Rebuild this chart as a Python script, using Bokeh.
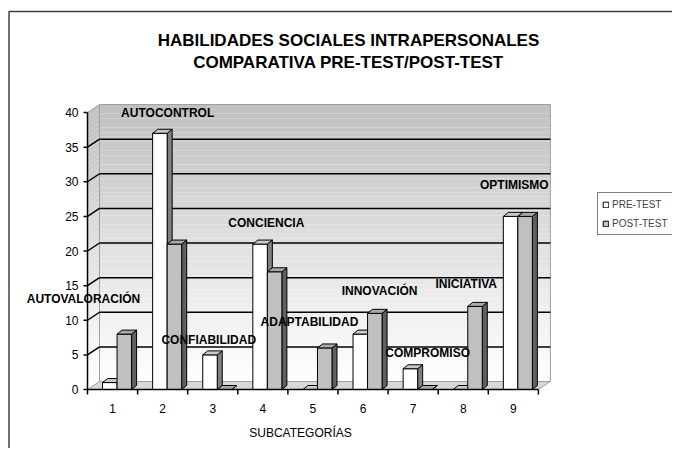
import numpy as np
from bokeh.plotting import figure
from bokeh.models import ColumnDataSource, Legend, LegendItem
from bokeh.core.properties import value
from bokeh.embed import file_html
from bokeh.resources import INLINE

# ---------------- data ----------------
categories = ["1", "2", "3", "4", "5", "6", "7", "8", "9"]
subcategory_names = ["AUTOVALORACIÓN", "AUTOCONTROL", "CONFIABILIDAD", "CONCIENCIA",
                     "ADAPTABILIDAD", "INNOVACIÓN", "COMPROMISO", "INICIATIVA", "OPTIMISMO"]
pre_test = [1, 37, 5, 21, 0, 8, 3, 0, 25]
post_test = [8, 21, 0, 17, 6, 11, 0, 12, 25]
y_ticks = [0, 5, 10, 15, 20, 25, 30, 35, 40]
series_names = ["PRE-TEST", "POST-TEST"]
title_lines = ["HABILIDADES SOCIALES INTRAPERSONALES", "COMPARATIVA PRE-TEST/POST-TEST"]
x_title = "SUBCATEGORÍAS"

# ---------------- layout / style ----------------
FONT = "Liberation Sans"
PX_X = 50.1                   # pixels per category
PX_Y = 6.925                  # pixels per value unit
DX, DY = 12 / PX_X, 8 / PX_Y  # depth of the walls (data units)
BDX, BDY = 5 / PX_X, 4 / PX_Y # depth of the bars
BW = 0.29                     # bar width
PRE_OFF, POST_OFF = 0.30, 0.59
YMAX = 40
n = len(categories)
label_x = [-0.08, 1.60, 2.42, 3.57, 4.43, 5.83, 6.79, 7.56, 8.52]
label_y = [13.0, 40.0, 7.1, 24.1, 9.7, 14.2, 5.3, 15.2, 29.6]

# plot origin (value 0, category boundary 0) at picture pixel (87, 389)
W, H = 672, 448
OX, OY = 87, 389
x0 = (0 - OX) / PX_X
x1 = (W - OX) / PX_X
y0 = (OY - H) / PX_Y
y1 = OY / PX_Y

p = figure(width=W, height=H, output_backend="svg", toolbar_location=None,
           x_range=(x0, x1), y_range=(y0, y1),
           x_axis_location=None, y_axis_location=None,
           min_border=0)
p.outline_line_color = None
p.xgrid.visible = False
p.ygrid.visible = False
p.background_fill_color = "white"
p.border_fill_color = "white"

def px(dx):
    return dx / PX_X
def py(dy):
    return dy / PX_Y

# outer border of the chart area (picture x=8.5, y=11)
bx = px(8.5 - OX)
by = py(OY - 11)
p.line([bx, bx, x1 + 1], [y0 - 1, by, by], line_color="#404040", line_width=1.5)

# ---------------- walls (gradient) ----------------
N = 60
edges = np.linspace(0, YMAX, N + 1)
def shade(t):
    c = int(round(255 - t * (255 - 192)))
    return "#%02x%02x%02x" % (c, c, c)
cols = [shade((edges[i] + edges[i + 1]) / 2 / YMAX) for i in range(N)]
# back wall
p.quad(left=DX, right=n + DX, bottom=edges[:-1] + DY, top=edges[1:] + DY,
       fill_color=cols, line_color=None)
# side wall
p.patches(xs=[[0, DX, DX, 0] for _ in range(N)],
          ys=[[edges[i], edges[i] + DY, edges[i + 1] + DY, edges[i + 1]] for i in range(N)],
          fill_color=cols, line_color=None)
# floor
p.patch([0, n, n + DX, DX], [0, 0, DY, DY], fill_color="#d8d8d8", line_color="#a0a0a0",
        line_width=1)
# wall outlines
p.line([DX, DX, n + DX, n + DX], [DY, YMAX + DY, YMAX + DY, DY], line_color="#a0a0a0", line_width=1)
p.line([0, DX], [YMAX, YMAX + DY], line_color="#a0a0a0", line_width=1)
# grid lines
grid_vals = [v for v in y_ticks if 0 < v < YMAX]
p.segment(x0=[DX] * len(grid_vals), x1=[n + DX] * len(grid_vals),
          y0=[v + DY for v in grid_vals], y1=[v + DY for v in grid_vals],
          line_color="black", line_width=1.5)
p.segment(x0=[0] * len(grid_vals), x1=[DX] * len(grid_vals),
          y0=grid_vals, y1=[v + DY for v in grid_vals],
          line_color="black", line_width=1.5)

# ---------------- 3D bars ----------------
def bars(vals, off, front, top_c, side_c):
    left = [i + off for i in range(n)]
    right = [l + BW for l in left]
    side_xs = [[r, r + BDX, r + BDX, r] for r in right]
    side_ys = [[0, BDY, v + BDY, v] for v in vals]
    p.patches(side_xs, side_ys, fill_color=side_c, line_color="black", line_width=1)
    fr = p.quad(left=left, right=right, bottom=0, top=vals, fill_color=front,
                line_color="black", line_width=1)
    top_xs = [[l, l + BDX, r + BDX, r] for l, r in zip(left, right)]
    top_ys = [[v, v + BDY, v + BDY, v] for v in vals]
    p.patches(top_xs, top_ys, fill_color=top_c, line_color="black", line_width=1)
    return fr

r_pre = bars(pre_test, PRE_OFF, "white", "#c8c8c8", "#808080")
r_post = bars(post_test, POST_OFF, "#c0c0c0", "#a8a8a8", "#606060")

# ---------------- axes (drawn on the plot's scales) ----------------
# y axis
p.line([0, 0], [0, YMAX], line_color="black", line_width=1.5)
p.segment(x0=[-px(4)] * len(y_ticks), x1=[0] * len(y_ticks), y0=y_ticks, y1=y_ticks,
          line_color="black", line_width=1.5)
p.text(x=[-px(9)] * len(y_ticks), y=y_ticks, text=[str(v) for v in y_ticks],
       text_align="right", text_baseline="middle", text_font=value(FONT),
       text_font_size="12px", text_color="black")
# x axis
p.line([0, n], [0, 0], line_color="black", line_width=1.5)
bounds = list(range(n + 1))
p.segment(x0=bounds, x1=bounds, y0=[0] * len(bounds), y1=[-py(5)] * len(bounds),
          line_color="black", line_width=1.5)
p.text(x=[i + 0.5 for i in range(n)], y=[-py(19)] * n, text=categories,
       text_align="center", text_baseline="middle", text_font=value(FONT),
       text_font_size="12px", text_color="black")
p.text(x=[px(300 - OX)], y=[-py(43)], text=[x_title], text_align="center",
       text_baseline="middle", text_font=value(FONT), text_font_size="12px",
       text_color="black")

# ---------------- labels ----------------
lab_src = ColumnDataSource(dict(x=label_x, y=label_y, text=subcategory_names))
p.text(x="x", y="y", text="text", source=lab_src,
       text_align="center", text_baseline="middle",
       text_font=value(FONT), text_font_size="12px",
       text_font_style="bold", text_color="black")

# ---------------- title ----------------
p.text(x=[px(348 - OX)] * 2, y=[py(OY - 40), py(OY - 62)], text=title_lines,
       text_align="center", text_baseline="middle", text_font=value(FONT),
       text_font_size="17px", text_font_style="bold", text_color="black")

# ---------------- legend ----------------
legend = Legend(items=[LegendItem(label=series_names[0], renderers=[r_pre]),
                       LegendItem(label=series_names[1], renderers=[r_post])],
                location=(597, 213), orientation="vertical",
                label_text_font=FONT, label_text_font_size="10px",
                glyph_width=7, glyph_height=7, label_height=14, label_width=10,
                padding=4, spacing=5, margin=0, label_standoff=3,
                border_line_color="black", border_line_width=1,
                background_fill_color="white", background_fill_alpha=1.0)
p.add_layout(legend)

open("out.html", "w").write(file_html(p, INLINE))
